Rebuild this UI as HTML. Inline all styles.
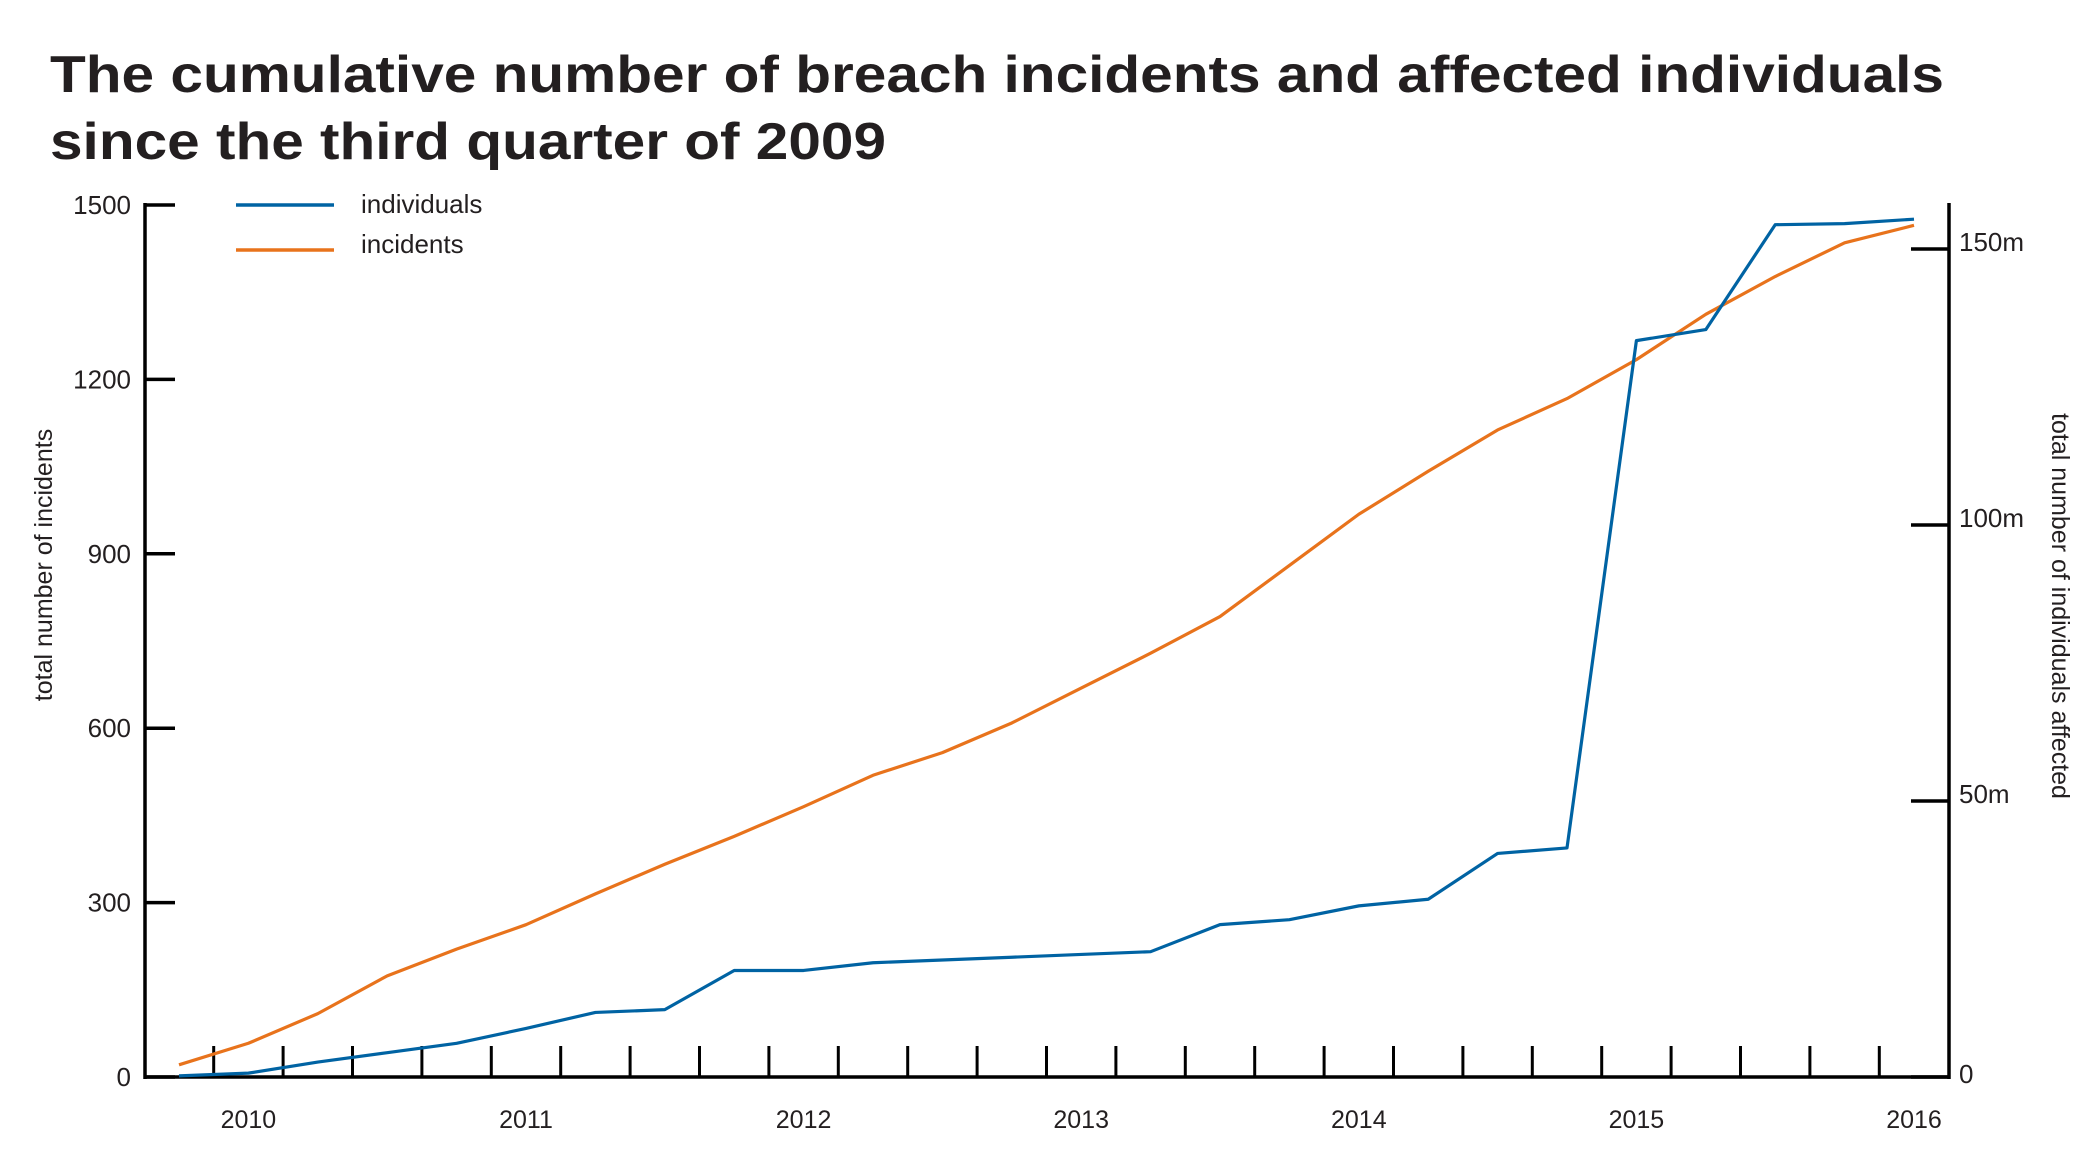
<!DOCTYPE html>
<html><head><meta charset="utf-8"><style>
html,body{margin:0;padding:0;background:#fff;}
svg{display:block;font-family:"Liberation Sans",Arial,sans-serif;}
</style></head><body>
<svg id="chart" width="2100" height="1171" viewBox="0 0 2100 1171">
<text x="50" y="92" font-size="52" font-weight="bold" fill="#231f20" textLength="1894" lengthAdjust="spacingAndGlyphs">The cumulative number of breach incidents and affected individuals</text>
<text x="50" y="159" font-size="52" font-weight="bold" fill="#231f20" textLength="836" lengthAdjust="spacingAndGlyphs">since the third quarter of 2009</text>
<g id="axes"></g>
<g id="series"></g>
<g>
<line x1="236" y1="205" x2="334" y2="205" stroke="#0063a3" stroke-width="3.5"/>
<text x="361" y="213" font-size="26" fill="#231f20">individuals</text>
<line x1="236" y1="250" x2="334" y2="250" stroke="#e8731c" stroke-width="3.5"/>
<text x="361" y="253" font-size="26" fill="#231f20">incidents</text>
</g>
<text transform="translate(52,565) rotate(-90)" text-anchor="middle" font-size="25" fill="#231f20">total number of incidents</text>
<text transform="translate(2052,606) rotate(90)" text-anchor="middle" font-size="25" fill="#231f20">total number of individuals affected</text>
</svg>
<script>
const incidents=[21,58,109,174,220,262,315,366,414,465,519,558,609,669,729,792,880,968,1042,1113,1167,1234,1312,1377,1435,1465];
const individualsM=[0.2,0.7,2.7,4.4,6.1,8.8,11.7,12.2,19.3,19.3,20.7,21.2,21.7,22.2,22.7,27.6,28.5,31,32.2,40.5,41.5,133.4,135.4,154.4,154.6,155.4];
const yearLabels=["2010","2011","2012","2013","2014","2015","2016"];
const leftTicks=[0,300,600,900,1200,1500];
const rightTicks=[0,50,100,150];
const rightTickLabels=["0","50m","100m","150m"];
const NS="http://www.w3.org/2000/svg";
const L=145,R=1949,B=1077,T=205,X0=179,STEP=69.4;
const xs=i=>X0+i*STEP;
const yL=v=>B-v/1500*(B-T);
const yR=v=>B-v/50*276;
function mk(tag,attrs,parent){const e=document.createElementNS(NS,tag);for(const k in attrs)e.setAttribute(k,attrs[k]);parent.appendChild(e);return e;}
const ax=document.getElementById('axes');
let e=mk('line',{x1:L,y1:T-2,x2:L,y2:B+2,stroke:'#000','stroke-width':3.5},ax);


e=mk('line',{x1:R,y1:T-2,x2:R,y2:B+2,stroke:'#000','stroke-width':3.5},ax);


e=mk('line',{x1:L,y1:B,x2:R,y2:B,stroke:'#000','stroke-width':3.5},ax);


leftTicks.forEach(v=>{
 const t=mk('line',{x1:L,y1:yL(v),x2:L+30,y2:yL(v),stroke:'#000','stroke-width':3.5},ax);
 
 
 const l=mk('text',{x:L-14,y:yL(v)+9,'text-anchor':'end','font-size':26,fill:'#231f20'},ax);l.textContent=v;
 
 
});
rightTicks.forEach((v,i)=>{
 const t=mk('line',{x1:R-38,y1:yR(v),x2:R,y2:yR(v),stroke:'#000','stroke-width':3.5},ax);
 
 
 const l=mk('text',{x:R+10,y:yR(v)+(v===0?6:2),'font-size':26,fill:'#231f20'},ax);l.textContent=rightTickLabels[i];
 
 
});
for(let i=0;i<incidents.length-1;i++){
 const x=xs(i+0.5);
 const t=mk('line',{x1:x,y1:B,x2:x,y2:B-31,stroke:'#000','stroke-width':3},ax);
 
 
}
yearLabels.forEach((y,k)=>{
 const l=mk('text',{x:xs(1+4*k),y:1128,'text-anchor':'middle','font-size':25,fill:'#231f20'},ax);l.textContent=y;
 
 
});
const sg=document.getElementById('series');
const p1=mk('polyline',{points:incidents.map((v,i)=>xs(i)+','+yL(v)).join(' '),fill:'none',stroke:'#e8731c','stroke-width':3.2,'stroke-linejoin':'round'},sg);


const p2=mk('polyline',{points:individualsM.map((v,i)=>xs(i)+','+yR(v)).join(' '),fill:'none',stroke:'#0063a3','stroke-width':3.2,'stroke-linejoin':'round'},sg);


</script>
</body></html>
